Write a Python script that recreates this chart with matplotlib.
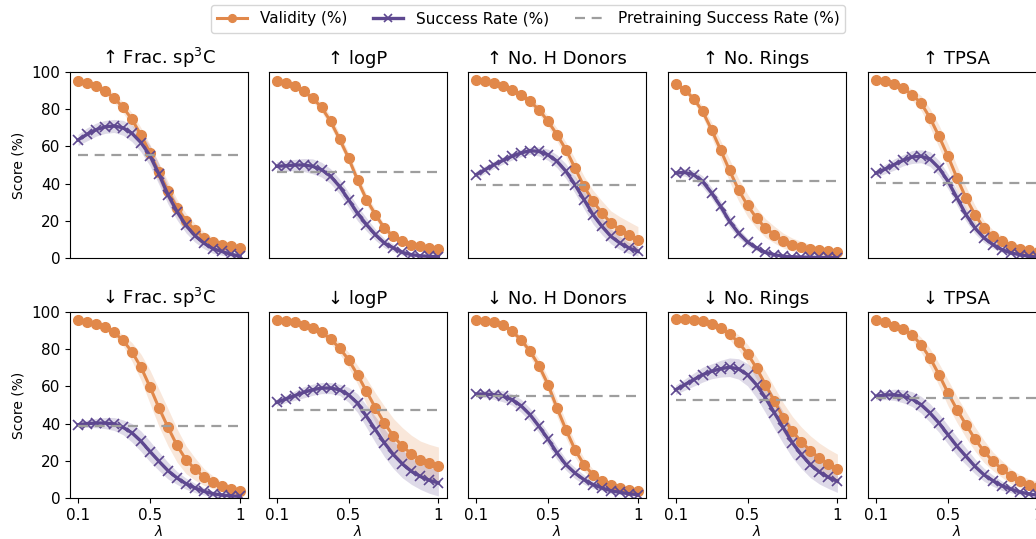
import numpy as np
import matplotlib
matplotlib.use("Agg")
import matplotlib.pyplot as plt

# lambda values on the x axis
lam = [0.1, 0.15, 0.2, 0.25, 0.3, 0.35, 0.4, 0.45, 0.5, 0.55,
       0.6, 0.65, 0.7, 0.75, 0.8, 0.85, 0.9, 0.95, 1.0]

titles = ["\u2191 Frac. sp$^3$C", "\u2191 logP", "\u2191 No. H Donors", "\u2191 No. Rings", "\u2191 TPSA",
          "\u2193 Frac. sp$^3$C", "\u2193 logP", "\u2193 No. H Donors", "\u2193 No. Rings", "\u2193 TPSA"]

#up frac sp3C
val_up_frac = [95, 94, 92.5, 90, 86, 81, 74.5, 66, 56.5, 46, 36, 27, 20, 15, 11, 8.5, 7, 6.5, 5.5]
val_sd_up_frac = [1, 1, 1.5, 2, 2.5, 3, 3.5, 4, 4.5, 5, 5, 4.5, 4, 3.5, 3, 2.5, 2, 2, 1.5]
sr_up_frac = [63.5, 66.5, 69, 70.5, 71, 70, 67, 62, 55, 45, 34, 25, 17.5, 12, 8, 5, 3.5, 2, 1]
sr_sd_up_frac = [3, 3.5, 3.5, 3.5, 3.5, 4, 4.5, 5, 5.5, 5.5, 5, 4.5, 4, 3.5, 3, 2.5, 2, 1.5, 1]
pre_up_frac = 55.5

#up logP
val_up_logp = [95, 94, 92.3, 89.6, 86, 81, 73.5, 64, 53.8, 42, 31.4, 23.3, 16, 11.6, 9, 7.2, 6.3, 5.4, 4.8]
val_sd_up_logp = [1, 1, 1, 1.5, 2, 2.5, 3, 3, 3, 3, 3, 2.5, 2, 2, 1.5, 1.5, 1.5, 1.5, 1.5]
sr_up_logp = [49.3, 49.6, 50, 50, 49.3, 47.5, 44, 38.5, 31.4, 24, 18, 12.5, 8, 5.4, 3, 1.8, 1.2, 0.9, 0.7]
sr_sd_up_logp = [2.5, 3, 3, 3.5, 4, 4, 4, 4, 4, 4, 3.5, 3, 2.5, 2, 1.5, 1, 1, 0.5, 0.5]
pre_up_logp = 46.2

#up H donors
val_up_hdon = [95.5, 95, 94, 92.3, 90.5, 87.8, 84.2, 79.7, 73.5, 66.3, 58.2, 48.4, 38.5, 30.5, 24.2, 18.8, 15.2, 12.5, 9.9]
val_sd_up_hdon = [1, 1, 1, 1, 1.5, 1.5, 2, 2.5, 3, 3.5, 4, 5, 5.5, 6, 6.5, 6.5, 7, 7, 7]
sr_up_hdon = [44.8, 47.5, 50.2, 52.5, 54.7, 56.5, 57.7, 57.3, 55.5, 52, 46.6, 39.4, 31.4, 23.3, 17, 11.6, 8, 5.4, 3.6]
sr_sd_up_hdon = [2, 2, 2, 2, 2, 2, 2, 2.5, 3, 3.5, 4, 4.5, 5, 5, 4.5, 4, 3.5, 3, 2.5]
pre_up_hdon = 39

#up rings
val_up_rings = [93.5, 90.5, 85.7, 78.9, 69, 58.2, 47.1, 36.7, 28.3, 21.5, 16.1, 12.5, 9.3, 7.2, 5.9, 4.8, 4.1, 3.6, 3.2]
val_sd_up_rings = [1, 1.5, 2, 3, 4, 5, 6, 6, 6, 5.5, 5, 4.5, 4, 3.5, 3, 2.5, 2, 1.5, 1]
sr_up_rings = [45.7, 46, 44.8, 41.2, 35, 27.8, 19.7, 13.4, 8.6, 5.4, 3, 1.8, 0.9, 0.7, 0.5, 0.4, 0.3, 0.3, 0.2]
sr_sd_up_rings = [1.5, 2, 2.5, 3, 3, 3, 3, 2.5, 2, 1.5, 1, 0.8, 0.5, 0.5, 0.3, 0.3, 0.2, 0.2, 0.2]
pre_up_rings = 41.4

#up TPSA
val_up_tpsa = [95.5, 95, 93.7, 91.4, 87.8, 83.3, 75.3, 65.4, 54.7, 43, 32.3, 23.3, 16.1, 11.6, 9, 6.3, 5, 4.1, 3.2]
val_sd_up_tpsa = [1, 1, 1.5, 2, 3, 4, 5, 6, 6.5, 6.5, 6, 5, 4, 3.5, 3, 2.5, 2, 1.5, 1.5]
sr_up_tpsa = [45.7, 47.8, 50.2, 52.5, 54.3, 54.7, 53.2, 48.4, 41.2, 32.3, 23.3, 16.1, 10.8, 7.2, 4.5, 2.7, 1.8, 0.9, 0.5]
sr_sd_up_tpsa = [2, 2.5, 3, 3, 3.5, 3.5, 4, 4, 4, 4, 3.5, 3, 2.5, 2, 1.5, 1, 1, 0.5, 0.5]
pre_up_tpsa = 40.3

#down frac sp3C
val_dn_frac = [95.5, 94.6, 93.5, 91.8, 89, 84.8, 78.5, 70.3, 59.7, 48.4, 38, 28.3, 20.6, 15.6, 11.3, 8.4, 6.3, 4.8, 3.9]
val_sd_dn_frac = [1, 1, 1, 1.5, 2, 3, 5, 7, 9, 10, 10, 9, 7.5, 6, 4.5, 3.5, 2.5, 2, 1.5]
sr_dn_frac = [39.4, 40, 40.3, 40.3, 39.8, 38, 35, 30.5, 25, 19.7, 14.7, 10.8, 7.7, 5.4, 3.6, 2.3, 1.6, 1.2, 0.9]
sr_sd_dn_frac = [1.5, 2, 2.5, 3, 3.5, 4, 5, 5.5, 5.5, 5, 4.5, 3.5, 3, 2.5, 2, 1.5, 1, 1, 0.5]
pre_dn_frac = 38.5

#down logP
val_dn_logp = [95.9, 95.3, 94.4, 93.2, 91.4, 89, 85.5, 80.6, 74.4, 66.3, 57.3, 48.4, 40.3, 33.2, 27.8, 23.7, 20.6, 18.8, 17.4]
val_sd_dn_logp = [0.5, 0.5, 1, 1, 1.5, 2, 2.5, 3, 4, 5, 7, 8, 9, 9.5, 10, 10, 10, 10, 10]
sr_dn_logp = [51.4, 53.2, 55, 56.8, 58.2, 59.1, 59.1, 58.2, 55.5, 51, 43.9, 36.7, 29.6, 23.3, 18.3, 14.3, 11.6, 9.5, 8.1]
sr_sd_dn_logp = [2, 2, 2.5, 3, 3, 3, 3, 3, 4, 5, 6, 7, 7.5, 7.5, 7.5, 7, 7, 7, 7]
pre_dn_logp = 47.5

#down H donors
val_dn_hdon = [95.9, 95.3, 94.4, 93.2, 89.6, 85.1, 78.9, 71.1, 61, 48.4, 36.7, 26, 17.9, 12.5, 9, 6.8, 5.4, 4.5, 3.6]
val_sd_dn_hdon = [1, 1, 1, 1, 1.5, 2, 3, 3.5, 4, 4.5, 4.5, 4, 3.5, 3, 2, 1.5, 1.5, 1, 1]
sr_dn_hdon = [55.9, 55.9, 55.5, 54.7, 52.9, 49.6, 44.8, 38.5, 31.7, 24.2, 17.9, 13.4, 9.9, 7.2, 5.4, 3.9, 3, 2.3, 1.8]
sr_sd_dn_hdon = [1.5, 2, 2.5, 3, 3, 3.5, 3.5, 3.5, 3.5, 3.5, 3, 3, 2.5, 2, 1.5, 1.5, 1, 1, 1]
pre_dn_hdon = 55

#down rings
val_dn_rings = [96.4, 96.2, 95.9, 95, 93.7, 91.4, 88.2, 83.7, 77.6, 69.9, 60.9, 52, 43, 35.8, 30.1, 25.4, 21.5, 18.3, 15.6]
val_sd_dn_rings = [0.5, 0.5, 0.5, 1, 1.5, 2, 3, 4, 5, 6, 7, 7.5, 8, 8, 8, 8, 8, 8, 8]
sr_dn_rings = [58.2, 60.9, 63.6, 66.3, 68.1, 69.5, 70.3, 69.4, 66.3, 60.9, 53.8, 45.7, 37.6, 29.6, 23.3, 17.9, 14, 11.1, 9]
sr_sd_dn_rings = [2.5, 3, 3.5, 4, 4, 4.5, 5, 5.5, 6, 7, 8, 8.5, 8.5, 8, 7.5, 7, 6.5, 6, 6]
pre_dn_rings = 52.9

#down TPSA
val_dn_tpsa = [95.5, 94.4, 92.7, 90.9, 87.8, 82.4, 75.3, 66.3, 56.5, 47.5, 39.4, 31.7, 25.1, 19.7, 15.6, 11.6, 9, 7.2, 6]
val_sd_dn_tpsa = [1, 1, 1.5, 2, 3, 4, 5, 6, 7, 7, 7, 6.5, 6, 5, 4.5, 4, 3.5, 3, 3]
sr_dn_tpsa = [54.7, 55.4, 55.5, 54.7, 53.2, 50.2, 45.7, 40.3, 34, 27.8, 22.4, 17, 12.5, 9.3, 6.6, 4.8, 3.2, 2.2, 1.5]
sr_sd_dn_tpsa = [2, 2.5, 3, 3.5, 4, 4.5, 5, 5, 5, 5, 4.5, 4, 3.5, 3, 2.5, 2, 1.5, 1, 1]
pre_dn_tpsa = 53.8

panels = [
    (val_up_frac, val_sd_up_frac, sr_up_frac, sr_sd_up_frac, pre_up_frac),
    (val_up_logp, val_sd_up_logp, sr_up_logp, sr_sd_up_logp, pre_up_logp),
    (val_up_hdon, val_sd_up_hdon, sr_up_hdon, sr_sd_up_hdon, pre_up_hdon),
    (val_up_rings, val_sd_up_rings, sr_up_rings, sr_sd_up_rings, pre_up_rings),
    (val_up_tpsa, val_sd_up_tpsa, sr_up_tpsa, sr_sd_up_tpsa, pre_up_tpsa),
    (val_dn_frac, val_sd_dn_frac, sr_dn_frac, sr_sd_dn_frac, pre_dn_frac),
    (val_dn_logp, val_sd_dn_logp, sr_dn_logp, sr_sd_dn_logp, pre_dn_logp),
    (val_dn_hdon, val_sd_dn_hdon, sr_dn_hdon, sr_sd_dn_hdon, pre_dn_hdon),
    (val_dn_rings, val_sd_dn_rings, sr_dn_rings, sr_sd_dn_rings, pre_dn_rings),
    (val_dn_tpsa, val_sd_dn_tpsa, sr_dn_tpsa, sr_sd_dn_tpsa, pre_dn_tpsa),
]

orange = "#E1884A"
purple = "#5E4890"
grey = "#9E9E9E"

W, H = 1036, 539
fig = plt.figure(figsize=(W/100, H/100), dpi=100)

#axes positions in pixels (the last column runs off the right edge, as in the original)
lefts = [70, 268.5, 468, 667.5, 868]
tops = [72, 312]
aw, ah = 178, 186

x = np.array(lam)
for i, (val, val_sd, sr, sr_sd, pre) in enumerate(panels):
    row, col = i // 5, i % 5
    ax = fig.add_axes([lefts[col]/W, 1 - (tops[row] + ah)/H, aw/W, ah/H])
    val = np.array(val); val_sd = np.array(val_sd)
    sr = np.array(sr); sr_sd = np.array(sr_sd)

    ax.fill_between(x, val - val_sd, val + val_sd, color=orange, alpha=0.2, lw=0)
    ax.fill_between(x, np.clip(sr - sr_sd, 0, None), sr + sr_sd, color=purple, alpha=0.2, lw=0)
    l1, = ax.plot(x, val, color=orange, lw=2.2, marker="o", ms=7, label="Validity (%)")
    l2, = ax.plot(x, sr, color=purple, lw=2.4, marker="x", ms=7.5, mew=1.2, label="Success Rate (%)")
    l3, = ax.plot([x[0], x[-1]], [pre, pre], color=grey, lw=1.6, ls=(0, (4.5, 3)),
                  label="Pretraining Success Rate (%)")

    ax.set_ylim(0, 100)
    ax.set_xlim(0.055, 1.045)
    ax.set_title(titles[i], fontsize=13, pad=6)
    ax.tick_params(labelsize=11)
    if col == 0:
        ax.set_yticks([0, 20, 40, 60, 80, 100])
        ax.set_ylabel("Score (%)", fontsize=10)
    else:
        ax.set_yticks([])
    if row == 1:
        ax.set_xticks([0.1, 0.5, 1.0])
        ax.set_xticklabels(["0.1", "0.5", "1"])
        ax.set_xlabel("$\\lambda$", fontsize=10, labelpad=1)
    else:
        ax.set_xticks([])

fig.legend(handles=[l1, l2, l3], loc="center", bbox_to_anchor=(528/W, 1 - 19/H),
           ncol=3, fontsize=11, frameon=True, handlelength=2.0, columnspacing=1.7,
           markerscale=0.8)

fig.savefig("out.png", dpi=100)
